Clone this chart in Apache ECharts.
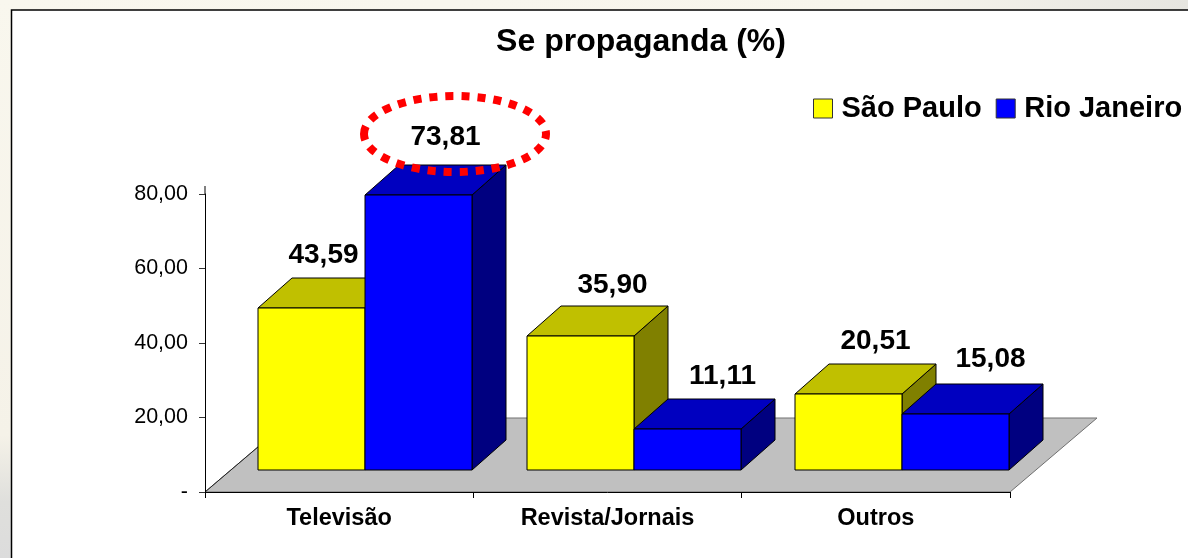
<!DOCTYPE html>
<html>
<head>
<meta charset="utf-8">
<style>html,body{margin:0;padding:0;background:#f9f7ee}#c{width:1188px;height:558px}</style>
<script src="https://cdn.jsdelivr.net/npm/echarts@6/dist/echarts.min.js"></script>
</head>
<body>
<div id="c"></div>
<script>
const categories = ['Televisão', 'Revista/Jornais', 'Outros'];
const saoPaulo = [43.59, 35.90, 20.51];
const rioJaneiro = [73.81, 11.11, 15.08];
const seriesNames = ['São Paulo', 'Rio Janeiro'];
const titleText = 'Se propaganda (%)';

// pseudo-3D look
const FONT = '"Liberation Sans", Arial, sans-serif';
const floorDepth = [87, 74], barLift = [26, 22], barDepth = [34, 30];
const saoPauloStyle = { front: '#ffff00', top: '#c0c000', side: '#808000' };
const rioStyle = { front: '#0000ff', top: '#0000c0', side: '#000080' };
const saoPauloLabelNudge = [[12, -23], [32, -21], [27, -23]];
const rioLabelNudge = [[27, -28], [35, -23], [35, -25]];

const fmt = v => v.toFixed(2).replace('.', ',');

function barRenderer(sideSign, style, nudge) {
  return function (params, api) {
    const i = api.value(0), v = api.value(1);
    const base = api.coord([i, 0]), tip = api.coord([i, v]);
    const w = Math.round(api.size([1, 0])[0] * 0.4);
    const anchor = Math.round(base[0]) + barLift[0];
    const x0 = sideSign < 0 ? anchor - w : anchor, x1 = x0 + w;
    const yB = Math.round(base[1]) - barLift[1], yT = Math.round(tip[1]) - barLift[1];
    const [dx, dy] = barDepth;
    const line = { stroke: '#000', lineWidth: 1 };
    const poly = (pts, fill) => ({
      type: 'polygon', shape: { points: pts }, style: Object.assign({ fill }, line), silent: true
    });
    return {
      type: 'group',
      children: [
        poly([[x1, yB], [x1 + dx, yB - dy], [x1 + dx, yT - dy], [x1, yT]], style.side),
        poly([[x0, yT], [x0 + dx, yT - dy], [x1 + dx, yT - dy], [x1, yT]], style.top),
        poly([[x0, yB], [x1, yB], [x1, yT], [x0, yT]], style.front),
        {
          type: 'text', z2: 50, silent: true,
          style: {
            text: fmt(v), font: 'bold 28px ' + FONT, fill: '#000',
            x: (x0 + x1) / 2 + nudge[i][0], y: yT - dy + nudge[i][1],
            align: 'center', verticalAlign: 'middle'
          }
        }
      ]
    };
  };
}

function floorRenderer(params) {
  const c = params.coordSys;
  const x0 = c.x, x1 = c.x + c.width, y = c.y + c.height;
  const [dx, dy] = floorDepth;
  return {
    type: 'group',
    children: [
      { type: 'polygon', silent: true,
        shape: { points: [[x0, y], [x1, y], [x1 + dx, y - dy], [x0 + dx, y - dy]] },
        style: { fill: '#c0c0c0', stroke: '#707070', lineWidth: 1 } },
      { type: 'line', silent: true,
        shape: { x1: x0, y1: y, x2: x0 + dx, y2: y - dy },
        style: { stroke: '#222', lineWidth: 1 } }
    ]
  };
}

const chart = echarts.init(document.getElementById('c'));
chart.setOption({
  animation: false,
  backgroundColor: 'transparent',
  textStyle: { fontFamily: FONT },
  title: {
    text: titleText, left: 636, top: 21, textAlign: 'center',
    textStyle: { fontFamily: FONT, fontSize: 32, fontWeight: 'bold', color: '#000' }
  },
  legend: {
    data: seriesNames, left: 813, top: 94, itemWidth: 19, itemHeight: 19, itemGap: 14,
    icon: 'rect', selectedMode: false, padding: 0, align: 'left',
    itemStyle: { borderColor: '#333', borderWidth: 1 },
    textStyle: { fontFamily: FONT, fontSize: 29, fontWeight: 'bold', color: '#000', padding: [9, 0, 0, 4] }
  },
  grid: { left: 205, right: 178, top: 194, bottom: 66 },
  xAxis: {
    type: 'category', data: categories, z: 5,
    axisLine: { lineStyle: { color: '#000', width: 1 } },
    axisTick: { show: true, length: 6, alignWithLabel: false, lineStyle: { color: '#000' } },
    axisLabel: { fontFamily: FONT, fontSize: 23.5, fontWeight: 'bold', color: '#000', margin: 15, interval: 0 }
  },
  yAxis: {
    type: 'value', min: 0, max: 80, interval: 20, z: 5,
    splitLine: { show: false },
    axisLine: { show: true, lineStyle: { color: '#000', width: 1 } },
    axisTick: { show: true, length: 6, lineStyle: { color: '#333' } },
    axisLabel: {
      fontFamily: FONT, fontSize: 21.5, color: '#000', margin: 17,
      formatter: v => v === 0 ? '-' : fmt(v)
    }
  },
  graphic: [
    { type: 'rect', z: -10, silent: true, shape: { x: 0, y: 0, width: 1188, height: 10 },
      style: { fill: new echarts.graphic.LinearGradient(0, 0, 1, 0, [
        { offset: 0, color: '#f9f7ee' }, { offset: 0.75, color: '#f7f5ec' }, { offset: 1, color: '#e6e5e0' }]) } },
    { type: 'rect', z: -10, silent: true, shape: { x: 0, y: 0, width: 11, height: 558 },
      style: { fill: new echarts.graphic.LinearGradient(0, 0, 0, 1, [
        { offset: 0, color: '#f9f7ee' }, { offset: 0.78, color: '#f5f2e8' }, { offset: 0.9, color: '#dfdfdc' }, { offset: 1, color: '#dcdcdc' }]) } },
    { type: 'rect', z: -9, silent: true, shape: { x: 11.5, y: 10, width: 1190, height: 560 },
      style: { fill: '#fff', stroke: '#000', lineWidth: 1.5 } },
    { type: 'line', z: 6, silent: true, shape: { x1: 205, y1: 186, x2: 205, y2: 194 },
      style: { stroke: '#000', lineWidth: 1 } },
    { type: 'ellipse', z: 60, silent: true, shape: { cx: 455, cy: 134, rx: 91, ry: 38 },
      style: { fill: 'none', stroke: '#ff0000', lineWidth: 8, lineDash: [8, 8] } }
  ],
  series: [
    { type: 'custom', silent: true, z: 1, data: [0], renderItem: floorRenderer, clip: false },
    {
      type: 'custom', name: seriesNames[0], z: 2, silent: true, clip: false,
      itemStyle: { color: saoPauloStyle.front },
      encode: { x: 0, y: 1 },
      data: saoPaulo.map((v, i) => [i, v]),
      renderItem: barRenderer(-1, saoPauloStyle, saoPauloLabelNudge)
    },
    {
      type: 'custom', name: seriesNames[1], z: 3, silent: true, clip: false,
      itemStyle: { color: rioStyle.front },
      encode: { x: 0, y: 1 },
      data: rioJaneiro.map((v, i) => [i, v]),
      renderItem: barRenderer(1, rioStyle, rioLabelNudge)
    }
  ]
});
</script>
</body>
</html>
